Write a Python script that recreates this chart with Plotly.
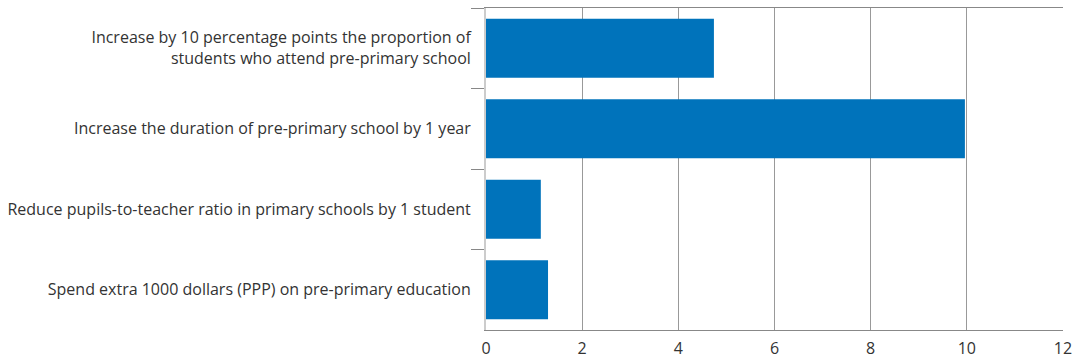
import plotly.graph_objects as go

categories = [
    "Increase by 10 percentage points the proportion of<br>students who attend pre-primary school",
    "Increase the duration of pre-primary school by 1 year",
    "Reduce pupils-to-teacher ratio in primary schools by 1 student",
    "Spend extra 1000 dollars (PPP) on pre-primary education",
]
values = [4.74, 9.96, 1.14, 1.29]
x_ticks = [0, 2, 4, 6, 8, 10, 12]

fig = go.Figure(go.Bar(
    x=values, y=categories, orientation="h",
    marker=dict(color="#0073BB", line=dict(width=0)),
))

fig.update_layout(
    width=1076, height=362,
    margin=dict(l=486, r=13, t=8, b=32),
    paper_bgcolor="white", plot_bgcolor="white",
    bargap=0.27,
    showlegend=False,
    font=dict(family="Open Sans", size=16, color="#333333"),
)
fig.update_xaxes(
    range=[0, 12], tickvals=x_ticks,
    showgrid=True, gridcolor="#999999", gridwidth=1,
    zeroline=False,
    showline=True, linecolor="#888888", linewidth=1, mirror=True,
    ticks="", tickfont=dict(size=16, color="#333333"),
    ticklabelstandoff=4, automargin=False,
)
fig.update_yaxes(
    autorange="reversed",
    showgrid=False, zeroline=False,
    showline=True, linecolor="#cccccc", linewidth=2,
    ticks="outside", tickson="boundaries", ticklen=13, tickcolor="#888888", tickwidth=1,
    tickfont=dict(size=16, color="#333333"),
    ticklabelstandoff=10, automargin=False,
)

fig.write_html("out.html", config={"displayModeBar": False},
               post_script="document.body.style.margin='0';")
